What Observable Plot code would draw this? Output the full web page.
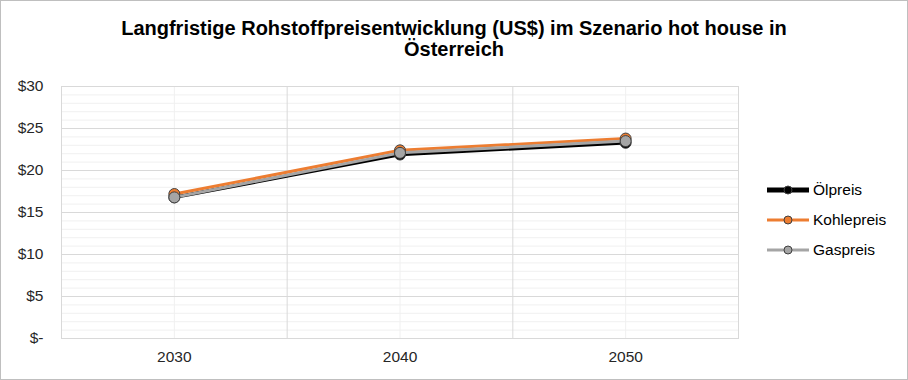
<!DOCTYPE html>
<html>
<head>
<meta charset="utf-8">
<script src="https://cdn.jsdelivr.net/npm/d3@7"></script>
<script src="https://cdn.jsdelivr.net/npm/@observablehq/plot@0.6"></script>
<style>
  html, body { margin: 0; padding: 0; background: #fff; }
  #chart { position: relative; width: 908px; height: 380px; font-family: "Liberation Sans", Arial, sans-serif; background: #fff; overflow: hidden; }
  #title { height: 70px; box-sizing: border-box; padding-top: 18px; text-align: center; font-weight: bold; font-size: 20px; line-height: 21px; color: #000; white-space: nowrap; }
  #border { position: absolute; left: 0; top: 0; width: 908px; height: 380px; box-sizing: border-box; border: 1px solid #bfbfbf; pointer-events: none; }
  #legend { position: absolute; left: 765px; top: 175px; }
  #legend .item { display: flex; align-items: center; height: 30px; font-size: 15.5px; color: #000; }
  #legend svg { margin-right: 2px; }
</style>
</head>
<body>
<div id="chart">
  <div id="title">Langfristige Rohstoffpreisentwicklung (US$) im Szenario hot house in<br>Österreich</div>
  <div id="plot"></div>
  <div id="legend"></div>
  <div id="border"></div>
</div>
<script>
const years = [2030, 2040, 2050];
const seriesNames = ["Ölpreis", "Kohlepreis", "Gaspreis"];
const oelpreis = [16.8, 21.9, 23.3];
const kohlepreis = [17.2, 22.4, 23.8];
const gaspreis = [16.8, 22.1, 23.5];
const yTicks = [0, 5, 10, 15, 20, 25, 30];
const yMinorTicks = d3.range(0, 31, 1);
const xMajorGrid = [2035, 2045];

const colors = {"Ölpreis": "#000000", "Kohlepreis": "#ed7d31", "Gaspreis": "#a5a5a5"};
const widths = {"Ölpreis": 3.5, "Kohlepreis": 3, "Gaspreis": 3};

const valuesBySeries = {"Ölpreis": oelpreis, "Kohlepreis": kohlepreis, "Gaspreis": gaspreis};
const data = seriesNames.flatMap(s => years.map((y, i) => ({series: s, year: y, value: valuesBySeries[s][i]})));

const marks = [
  Plot.ruleY(yMinorTicks, {stroke: "#f0f0f0", strokeWidth: 1}),
  Plot.ruleX(years, {stroke: "#f0f0f0", strokeWidth: 1}),
  Plot.ruleY(yTicks, {stroke: "#d9d9d9", strokeWidth: 1}),
  Plot.ruleX(xMajorGrid, {stroke: "#d9d9d9", strokeWidth: 1}),
  Plot.frame({stroke: "#d9d9d9", strokeWidth: 1}),
  Plot.axisY({ticks: yTicks, tickSize: 0, tickPadding: 18, fontSize: 15.5, tickFormat: d => d === 0 ? "$-" : "$" + d, label: null, fill: "#262626"}),
  Plot.axisX({ticks: years, tickSize: 0, tickPadding: 12, fontSize: 15.5, tickFormat: d => String(d), label: null, fill: "#262626"})
];
for (const s of seriesNames) {
  const d = data.filter(r => r.series === s);
  marks.push(Plot.line(d, {x: "year", y: "value", stroke: colors[s], strokeWidth: widths[s], strokeLinejoin: "round"}));
}
for (const s of seriesNames) {
  const d = data.filter(r => r.series === s);
  marks.push(Plot.dot(d, {x: "year", y: "value", r: 5.5, fill: colors[s], stroke: "#404040", strokeWidth: 1}));
}

const plot = Plot.plot({
  width: 908,
  height: 310,
  marginTop: 16,
  marginBottom: 42,
  marginLeft: 61,
  marginRight: 170,
  x: {type: "linear", domain: [2025, 2055]},
  y: {domain: [0, 30]},
  style: {fontFamily: "'Liberation Sans', Arial, sans-serif", background: "#fff", overflow: "visible"},
  marks
});
document.getElementById("plot").appendChild(plot);

// legend
const legend = document.getElementById("legend");
const ns = "http://www.w3.org/2000/svg";
for (const s of seriesNames) {
  const item = document.createElement("div");
  item.className = "item";
  const svg = document.createElementNS(ns, "svg");
  svg.setAttribute("width", 46); svg.setAttribute("height", 14);
  const line = document.createElementNS(ns, "line");
  line.setAttribute("x1", 2); line.setAttribute("x2", 44); line.setAttribute("y1", 7); line.setAttribute("y2", 7);
  line.setAttribute("stroke", colors[s]); line.setAttribute("stroke-width", s === "Ölpreis" ? 5 : 3);
  svg.appendChild(line);
  const c = document.createElementNS(ns, "circle");
  c.setAttribute("cx", 23); c.setAttribute("cy", 7); c.setAttribute("r", 4);
  c.setAttribute("fill", colors[s]); c.setAttribute("stroke", "#404040"); c.setAttribute("stroke-width", 1);
  svg.appendChild(c);
  item.appendChild(svg);
  const t = document.createElement("span");
  t.textContent = s;
  item.appendChild(t);
  legend.appendChild(item);
}
</script>
</body>
</html>
